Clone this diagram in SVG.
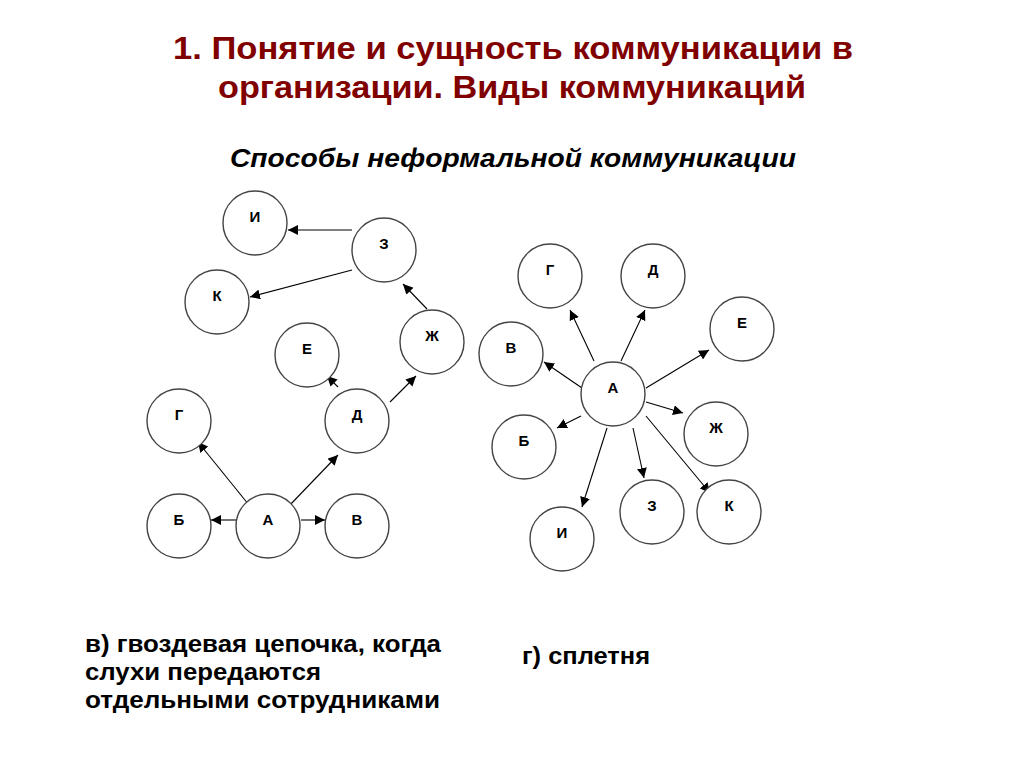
<svg xmlns="http://www.w3.org/2000/svg" width="1024" height="768" viewBox="0 0 1024 768">
<style>
.title{font-family:"Liberation Sans",Arial,sans-serif;font-weight:bold;font-size:31px;fill:#800000}
.sub{font-family:"Liberation Sans",Arial,sans-serif;font-weight:bold;font-style:italic;font-size:26px;fill:#000}
.cap{font-family:"Liberation Sans",Arial,sans-serif;font-weight:bold;font-size:24px;fill:#000}
.node circle{fill:#fff;stroke:#444;stroke-width:1.4}
.node text{font-family:"Liberation Sans",Arial,sans-serif;font-weight:bold;font-size:15px;fill:#000;text-anchor:middle}
.conn line{stroke:#000;stroke-width:1.1;marker-end:url(#ah)}
</style>
<defs>
<marker id="ah" markerUnits="userSpaceOnUse" markerWidth="11" markerHeight="10" refX="10" refY="5" orient="auto">
<path d="M0,0 L10,5 L0,10 Z" fill="#000"/>
</marker>
</defs>
<rect width="1024" height="768" fill="#fff"/>
<text class="title" x="173" y="59" textLength="680" lengthAdjust="spacingAndGlyphs">1. Понятие и сущность  коммуникации в</text>
<text class="title" x="218" y="98" textLength="588" lengthAdjust="spacingAndGlyphs">организации. Виды коммуникаций</text>
<text class="sub" x="230" y="167" textLength="566" lengthAdjust="spacingAndGlyphs">Способы неформальной коммуникации</text>

<g id="connectors" class="conn">
<line x1="352" y1="230" x2="288" y2="230"/>
<line x1="352" y1="270" x2="250" y2="297"/>
<line x1="427" y1="309" x2="403" y2="284"/>
<line x1="338" y1="387" x2="327" y2="376"/>
<line x1="390" y1="402" x2="416" y2="376"/>
<line x1="249" y1="505" x2="198" y2="442"/>
<line x1="288" y1="507" x2="338" y2="455"/>
<line x1="237" y1="520" x2="211" y2="520"/>
<line x1="301" y1="520" x2="325" y2="520"/>
<line x1="594" y1="361" x2="570" y2="310"/>
<line x1="621" y1="361" x2="645" y2="310"/>
<line x1="646" y1="388" x2="709" y2="350"/>
<line x1="582" y1="388" x2="544" y2="362"/>
<line x1="646" y1="402" x2="683" y2="413"/>
<line x1="581" y1="416" x2="557" y2="428"/>
<line x1="607" y1="428" x2="582" y2="507"/>
<line x1="633" y1="428" x2="644" y2="478"/>
<line x1="646" y1="416" x2="710" y2="493"/>
</g>

<g id="L-I" class="node"><circle cx="255" cy="223" r="32"/><text x="255" y="222">И</text></g>
<g id="L-Z" class="node"><circle cx="384" cy="250" r="32"/><text x="384" y="249">З</text></g>
<g id="L-K" class="node"><circle cx="217" cy="302" r="32"/><text x="217" y="301">К</text></g>
<g id="L-E" class="node"><circle cx="307" cy="355" r="32"/><text x="307" y="354">Е</text></g>
<g id="L-Zh" class="node"><circle cx="432" cy="342" r="32"/><text x="432" y="341">Ж</text></g>
<g id="L-G" class="node"><circle cx="179" cy="421" r="32"/><text x="179" y="420">Г</text></g>
<g id="L-D" class="node"><circle cx="357" cy="421" r="32"/><text x="357" y="420">Д</text></g>
<g id="L-B" class="node"><circle cx="179" cy="526" r="32"/><text x="179" y="525">Б</text></g>
<g id="L-A" class="node"><circle cx="268" cy="526" r="32"/><text x="268" y="525">А</text></g>
<g id="L-V" class="node"><circle cx="357" cy="526" r="32"/><text x="357" y="525">В</text></g>

<g id="R-G" class="node"><circle cx="550" cy="276" r="32"/><text x="550" y="275">Г</text></g>
<g id="R-D" class="node"><circle cx="653" cy="276" r="32"/><text x="653" y="275">Д</text></g>
<g id="R-E" class="node"><circle cx="742" cy="329" r="32"/><text x="742" y="328">Е</text></g>
<g id="R-V" class="node"><circle cx="511" cy="354" r="32"/><text x="511" y="353">В</text></g>
<g id="R-A" class="node"><circle cx="613" cy="394" r="32"/><text x="613" y="393">А</text></g>
<g id="R-B" class="node"><circle cx="524" cy="447" r="32"/><text x="524" y="446">Б</text></g>
<g id="R-Zh" class="node"><circle cx="716" cy="434" r="32"/><text x="716" y="433">Ж</text></g>
<g id="R-I" class="node"><circle cx="562" cy="539" r="32"/><text x="562" y="538">И</text></g>
<g id="R-Z" class="node"><circle cx="652" cy="512" r="32"/><text x="652" y="511">З</text></g>
<g id="R-K" class="node"><circle cx="729" cy="512" r="32"/><text x="729" y="511">К</text></g>

<text class="cap" x="85" y="652" textLength="356" lengthAdjust="spacingAndGlyphs">в) гвоздевая цепочка, когда</text>
<text class="cap" x="85" y="680" textLength="236" lengthAdjust="spacingAndGlyphs">слухи передаются</text>
<text class="cap" x="85" y="708" textLength="355" lengthAdjust="spacingAndGlyphs">отдельными сотрудниками</text>
<text class="cap" x="522" y="664" textLength="128" lengthAdjust="spacingAndGlyphs">г) сплетня</text>
</svg>
